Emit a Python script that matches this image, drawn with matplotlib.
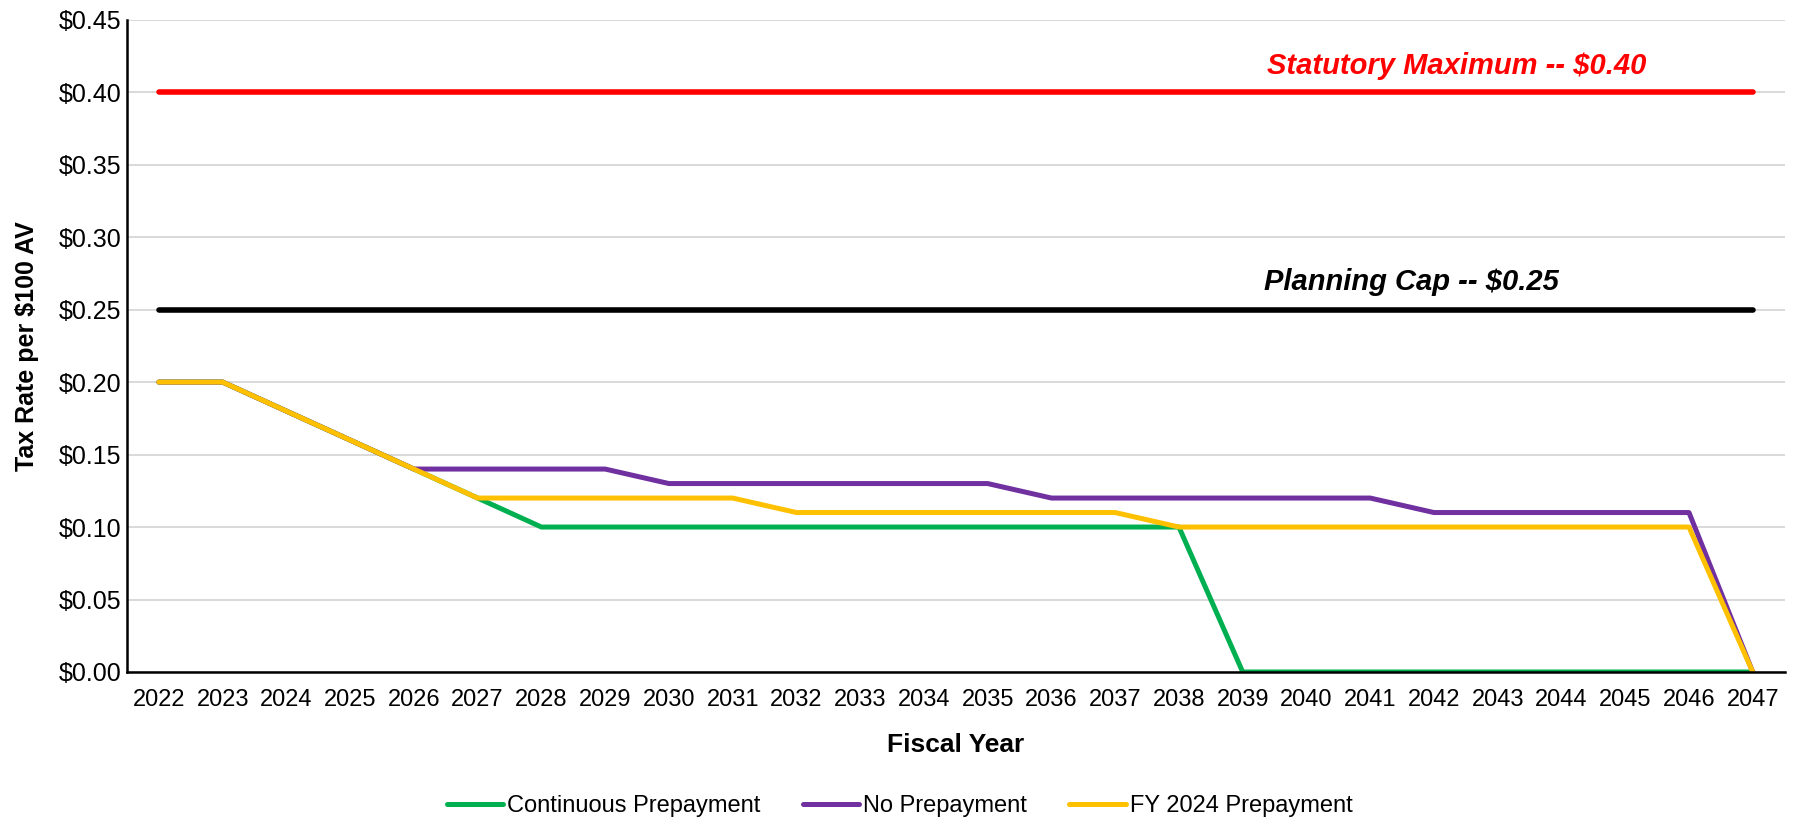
import matplotlib.pyplot as plt
import numpy as np

plt.rcParams["font.family"] = ["Liberation Sans", "DejaVu Sans"]

years = [str(y) for y in range(2022, 2048)]

continuous = [0.20, 0.20, 0.18, 0.16, 0.14, 0.12, 0.10, 0.10, 0.10, 0.10,
              0.10, 0.10, 0.10, 0.10, 0.10, 0.10, 0.10, 0.00, 0.00, 0.00,
              0.00, 0.00, 0.00, 0.00, 0.00, 0.00]
no_prepay = [0.20, 0.20, 0.18, 0.16, 0.14, 0.14, 0.14, 0.14, 0.13, 0.13,
             0.13, 0.13, 0.13, 0.13, 0.12, 0.12, 0.12, 0.12, 0.12, 0.12,
             0.11, 0.11, 0.11, 0.11, 0.11, 0.00]
fy2024 = [0.20, 0.20, 0.18, 0.16, 0.14, 0.12, 0.12, 0.12, 0.12, 0.12,
          0.11, 0.11, 0.11, 0.11, 0.11, 0.11, 0.10, 0.10, 0.10, 0.10,
          0.10, 0.10, 0.10, 0.10, 0.10, 0.00]

statutory_max = 0.40
planning_cap = 0.25

x = np.arange(len(years))

fig = plt.figure(figsize=(17.99, 8.21), dpi=100)
ax = fig.add_axes([0.0706, 0.1815, 0.9214, 0.7945])

ax.plot(x, [statutory_max] * len(x), color="#FF0000", lw=4, solid_capstyle="round")
ax.plot(x, [planning_cap] * len(x), color="#000000", lw=4, solid_capstyle="round")
ax.plot(x, continuous, color="#00B050", lw=3.6, solid_capstyle="round",
        label="Continuous Prepayment")
ax.plot(x, no_prepay, color="#7030A0", lw=3.6, solid_capstyle="round",
        label="No Prepayment")
ax.plot(x, fy2024, color="#FFC000", lw=3.6, solid_capstyle="round",
        label="FY 2024 Prepayment")

ax.text(20.36, 0.418, "Statutory Maximum -- $0.40", color="#FF0000",
        fontsize=21, fontweight="bold", fontstyle="italic", ha="center", va="center")
ax.text(19.65, 0.2693, "Planning Cap -- $0.25", color="#000000",
        fontsize=21, fontweight="bold", fontstyle="italic", ha="center", va="center")

ax.set_xlim(-0.5, len(x) - 0.5)
ax.set_ylim(0, 0.45)
ax.set_xticks(x)
ax.set_xticklabels(years)
ax.set_yticks(np.arange(0, 0.451, 0.05))
ax.set_yticklabels([f"${v:.2f}" for v in np.arange(0, 0.451, 0.05)])
ax.tick_params(axis="both", length=0, labelsize=17)
ax.tick_params(axis="y", pad=4, labelsize=18)
ax.tick_params(axis="x", pad=12)
ax.grid(axis="y", color="#D9D9D9", lw=1.4)
ax.set_axisbelow(True)
for s in ["top", "right"]:
    ax.spines[s].set_visible(False)
for s in ["left", "bottom"]:
    ax.spines[s].set_color("black")
    ax.spines[s].set_linewidth(1.8)

ax.set_xlabel("Fiscal Year", fontsize=19, fontweight="bold", labelpad=16)
ax.set_ylabel("Tax Rate per $100 AV", fontsize=18, fontweight="bold", labelpad=14)

fig.legend(loc="center", bbox_to_anchor=(0.5, 0.018), ncol=3, frameon=False,
           fontsize=17, handlelength=2.4, columnspacing=1.8, handletextpad=0.15)

fig.savefig("out.png", dpi=100)
